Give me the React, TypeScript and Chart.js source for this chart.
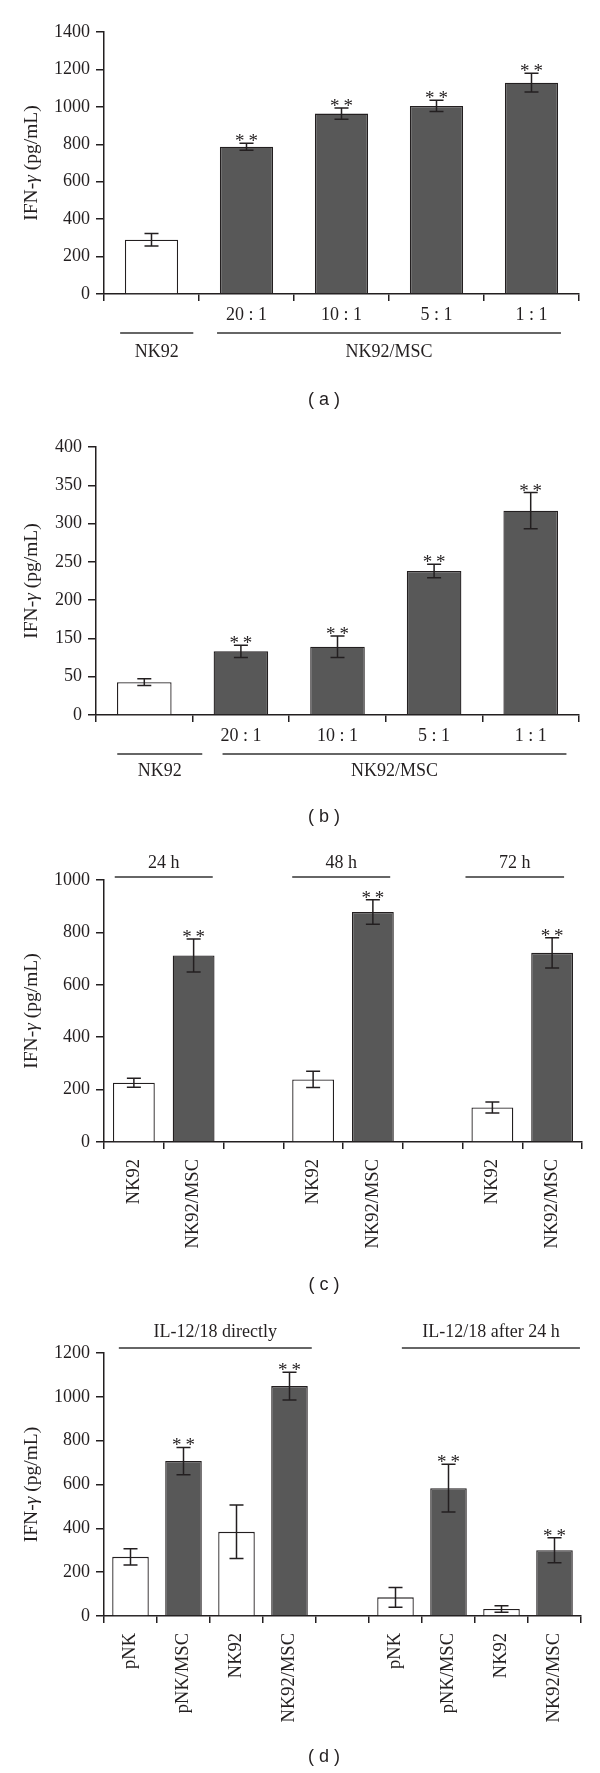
import React, { useEffect, useRef } from "react";
import { Chart, registerables } from "chart.js";

Chart.register(...registerables);

const SERIF = '"Liberation Serif", "Times New Roman", Times, serif';
const SANS = '"Liberation Sans", Arial, Helvetica, sans-serif';
const INK = "#231f20";
const DARK = "#585858";
const LIGHT = "#ffffff";

// ---------- Panel (a) ----------
const catsA = ["", "20 : 1", "10 : 1", "5 : 1", "1 : 1"];
const valuesA = [290, 787, 964, 1005, 1129];
const errorsA = [33, 19, 30, 30, 50];
const starsA = [false, true, true, true, true];
const mscA = [false, true, true, true, true];
const groupNamesA = ["NK92", "NK92/MSC"];
const groupSpansA = [[-0.33, 0.44], [0.69, 4.31]];

// ---------- Panel (b) ----------
const catsB = ["", "20 : 1", "10 : 1", "5 : 1", "1 : 1"];
const valuesB = [49, 95, 102, 215, 305];
const errorsB = [5, 9, 16, 10, 27];
const starsB = [false, true, true, true, true];
const mscB = [false, true, true, true, true];
const yTickLabelsB = ["0", "50", "150", "200", "250", "300", "350", "400"];
const groupNamesB = ["NK92", "NK92/MSC"];
const groupSpansB = [[-0.28, 0.6], [0.81, 4.37]];

// ---------- Panel (c) ----------
const catsC = ["NK92", "NK92/MSC", "", "NK92", "NK92/MSC", "", "NK92", "NK92/MSC"];
const valuesC = [226, 712, null, 239, 878, null, 132, 722];
const errorsC = [17, 63, null, 31, 47, null, 21, 58];
const starsC = [false, true, false, false, true, false, false, true];
const mscC = [false, true, false, false, true, false, false, true];
const groupNamesC = ["24 h", "48 h", "72 h"];
const groupSpansC = [[-0.32, 1.32], [2.65, 4.29], [5.55, 7.2]];

// ---------- Panel (d) ----------
const catsD = ["pNK", "pNK/MSC", "NK92", "NK92/MSC", "", "pNK", "pNK/MSC", "NK92", "NK92/MSC"];
const valuesD = [270, 707, 384, 1049, null, 85, 583, 32, 300];
const errorsD = [37, 62, 122, 63, null, 45, 109, 15, 57];
const starsD = [false, true, false, true, false, false, true, false, true];
const mscD = [false, true, false, true, false, false, true, false, true];
const groupNamesD = ["IL-12/18 directly", "IL-12/18 after 24 h"];
const groupSpansD = [[-0.22, 3.42], [5.12, 8.48]];

type Spec = {
  top: number;
  height: number;
  areaTop: number;
  areaBottom: number;
  areaLeft: number;
  areaRight: number;
  cats: string[];
  values: (number | null)[];
  errors: (number | null)[];
  stars: boolean[];
  msc: boolean[];
  yMax: number;
  yStep?: number;
  yLabels?: string[];
  barFrac: number;
  rotate: boolean;
  labelPad: number;
  groupNames: string[];
  groupSpans: number[][];
  groupsAbove: boolean;
  lineOff: number;
  labelOff: number;
  caption: string;
  captionOff: number;
};

const specs: Spec[] = [
  {
    top: 0, height: 420, areaTop: 32, areaBottom: 294, areaLeft: 104, areaRight: 579,
    cats: catsA, values: valuesA, errors: errorsA, stars: starsA, msc: mscA,
    yMax: 1400, yStep: 200, barFrac: 0.56, rotate: false, labelPad: 3,
    groupNames: groupNamesA, groupSpans: groupSpansA, groupsAbove: false, lineOff: 39, labelOff: 58,
    caption: "( a )", captionOff: 106,
  },
  {
    top: 420, height: 420, areaTop: 27, areaBottom: 295, areaLeft: 96, areaRight: 579,
    cats: catsB, values: valuesB, errors: errorsB, stars: starsB, msc: mscB,
    yMax: 400, yLabels: yTickLabelsB, barFrac: 0.565, rotate: false, labelPad: 3,
    groupNames: groupNamesB, groupSpans: groupSpansB, groupsAbove: false, lineOff: 39, labelOff: 56,
    caption: "( b )", captionOff: 102,
  },
  {
    top: 840, height: 460, areaTop: 40, areaBottom: 302, areaLeft: 104, areaRight: 582,
    cats: catsC, values: valuesC, errors: errorsC, stars: starsC, msc: mscC,
    yMax: 1000, yStep: 200, barFrac: 0.7, rotate: true, labelPad: 10,
    groupNames: groupNamesC, groupSpans: groupSpansC, groupsAbove: true, lineOff: -3, labelOff: -17,
    caption: "( c )", captionOff: 143,
  },
  {
    top: 1300, height: 473, areaTop: 53, areaBottom: 316, areaLeft: 104, areaRight: 581,
    cats: catsD, values: valuesD, errors: errorsD, stars: starsD, msc: mscD,
    yMax: 1200, yStep: 200, barFrac: 0.69, rotate: true, labelPad: 10,
    groupNames: groupNamesD, groupSpans: groupSpansD, groupsAbove: true, lineOff: -5, labelOff: -21,
    caption: "( d )", captionOff: 141,
  },
];

function drawYTitle(ctx: CanvasRenderingContext2D, x: number, y: number) {
  const parts: [string, string][] = [
    ["IFN-", "normal"],
    ["γ", "italic"],
    [" (pg/mL)", "normal"],
  ];
  ctx.save();
  ctx.translate(x, y);
  ctx.rotate(-Math.PI / 2);
  const widths = parts.map(([t, s]) => {
    ctx.font = `${s} 19.5px ${SERIF}`;
    return ctx.measureText(t).width;
  });
  const total = widths.reduce((a, b) => a + b, 0);
  let cx = -total / 2;
  ctx.textBaseline = "middle";
  ctx.textAlign = "left";
  ctx.fillStyle = INK;
  parts.forEach(([t, s], i) => {
    ctx.font = `${s} 19.5px ${SERIF}`;
    ctx.fillText(t, cx, 0);
    cx += widths[i];
  });
  ctx.restore();
}

function makeDecor(spec: Spec) {
  return {
    id: "decor",
    afterDatasetsDraw(chart: any) {
      const ctx: CanvasRenderingContext2D = chart.ctx;
      const meta = chart.getDatasetMeta(0);
      const y = chart.scales.y;
      ctx.save();
      ctx.strokeStyle = INK;
      ctx.lineWidth = 1.5;
      ctx.fillStyle = INK;
      ctx.font = `19px ${SERIF}`;
      ctx.textAlign = "center";
      ctx.textBaseline = "alphabetic";
      spec.values.forEach((v, i) => {
        const e = spec.errors[i];
        if (v == null || e == null) return;
        const el = meta.data[i];
        const x = el.x;
        const yt = y.getPixelForValue(v + e);
        const yb = y.getPixelForValue(v - e);
        ctx.beginPath();
        ctx.moveTo(x, yt);
        ctx.lineTo(x, yb);
        ctx.moveTo(x - 7, yt);
        ctx.lineTo(x + 7, yt);
        ctx.moveTo(x - 7, yb);
        ctx.lineTo(x + 7, yb);
        ctx.stroke();
        if (spec.stars[i]) {
          ctx.fillText("*\u2009*", x, yt + 4);
        }
      });
      ctx.restore();
    },
    afterDraw(chart: any) {
      const ctx: CanvasRenderingContext2D = chart.ctx;
      const xs = chart.scales.x;
      const area = chart.chartArea;
      ctx.save();
      const base = spec.groupsAbove ? area.top : area.bottom;
      spec.groupNames.forEach((name, gi) => {
        const [f, t] = spec.groupSpans[gi];
        const x1 = xs.getPixelForValue(f);
        const x2 = xs.getPixelForValue(t);
        ctx.strokeStyle = "#333";
        ctx.lineWidth = 1.6;
        ctx.beginPath();
        ctx.moveTo(x1, base + spec.lineOff);
        ctx.lineTo(x2, base + spec.lineOff);
        ctx.stroke();
        ctx.fillStyle = INK;
        ctx.font = `18px ${SERIF}`;
        ctx.textAlign = "center";
        ctx.textBaseline = "middle";
        ctx.fillText(name, (x1 + x2) / 2, base + spec.labelOff);
      });
      drawYTitle(ctx, 32, (area.top + area.bottom) / 2);
      ctx.fillStyle = INK;
      ctx.font = `18px ${SANS}`;
      ctx.textAlign = "center";
      ctx.textBaseline = "middle";
      ctx.fillText(spec.caption, 324, area.bottom + spec.captionOff);
      ctx.restore();
    },
  };
}

function Panel({ spec }: { spec: Spec }) {
  const ref = useRef<HTMLCanvasElement>(null);
  useEffect(() => {
    if (!ref.current) return;
    const labels = spec.yLabels;
    const yTicks: any = {
      color: INK,
      font: { family: SERIF, size: 18 },
      padding: 6,
      callback: (v: any, i: number) => (labels ? labels[i] : String(v)),
    };
    if (spec.yStep) yTicks.stepSize = spec.yStep;
    const yScale: any = {
      min: 0,
      max: spec.yMax,
      grid: {
        display: true,
        drawOnChartArea: false,
        drawTicks: true,
        tickLength: 8,
        color: INK,
        lineWidth: 1.5,
      },
      border: { display: true, color: INK, width: 1.5 },
      ticks: yTicks,
      afterFit: (s: any) => {
        s.width = spec.areaLeft;
      },
    };
    if (labels) {
      yScale.afterBuildTicks = (s: any) => {
        s.ticks = labels.map((_l, i) => ({ value: (i * spec.yMax) / (labels.length - 1) }));
      };
    }
    const chart = new Chart(ref.current, {
      type: "bar",
      data: {
        labels: spec.cats,
        datasets: [
          {
            data: spec.values as any,
            backgroundColor: spec.msc.map((m) => (m ? DARK : LIGHT)),
            borderColor: INK,
            borderWidth: 1.3,
            barPercentage: spec.barFrac,
            categoryPercentage: 1,
          },
        ],
      },
      options: {
        responsive: false,
        animation: false,
        devicePixelRatio: 1,
        events: [],
        layout: {
          padding: {
            left: 0,
            top: spec.areaTop,
            right: 600 - spec.areaRight,
            bottom: 0,
          },
        },
        plugins: {
          legend: { display: false },
          tooltip: { enabled: false },
          title: { display: false },
        },
        scales: {
          x: {
            type: "category",
            offset: true,
            grid: {
              display: true,
              offset: true,
              drawOnChartArea: false,
              drawTicks: true,
              tickLength: 7,
              color: INK,
              lineWidth: 1.5,
            },
            border: { display: true, color: INK, width: 1.5 },
            ticks: {
              color: INK,
              font: { family: SERIF, size: spec.rotate ? 18.5 : 18 },
              padding: spec.labelPad,
              autoSkip: false,
              maxRotation: spec.rotate ? 90 : 0,
              minRotation: spec.rotate ? 90 : 0,
            },
            afterFit: (s: any) => {
              s.height = spec.height - spec.areaBottom;
            },
          },
          y: yScale,
        },
      },
      plugins: [makeDecor(spec)],
    });
    return () => chart.destroy();
  }, [spec]);
  return (
    <canvas
      ref={ref}
      width={600}
      height={spec.height}
      style={{
        position: "absolute",
        left: 0,
        top: spec.top,
        width: 600,
        height: spec.height,
        display: "block",
      }}
    />
  );
}

export default function App() {
  return (
    <div
      style={{
        position: "absolute",
        left: 0,
        top: 0,
        width: 600,
        height: 1773,
        background: "#ffffff",
        overflow: "hidden",
      }}
    >
      {specs.map((s, i) => (
        <Panel key={i} spec={s} />
      ))}
    </div>
  );
}
